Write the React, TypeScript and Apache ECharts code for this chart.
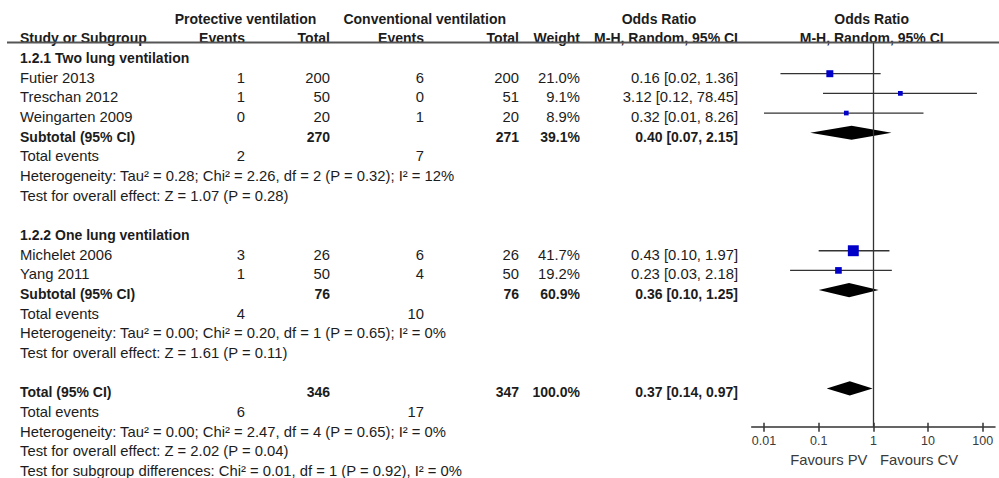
import React, { useEffect, useRef } from "react";
import * as echarts from "echarts";

// ---- Study-level data -------------------------------------------------------
const studyNames = ["Futier 2013", "Treschan 2012", "Weingarten 2009", "Michelet 2006", "Yang 2011"];
const studyGroup = [0, 0, 0, 1, 1];
const pvEvents = [1, 1, 0, 3, 1];
const pvTotal = [200, 50, 20, 26, 50];
const cvEvents = [6, 0, 1, 6, 4];
const cvTotal = [200, 51, 20, 26, 50];
const studyWeight = [21.0, 9.1, 8.9, 41.7, 19.2];
const studyOR = [0.16, 3.12, 0.32, 0.43, 0.23];
const studyLower = [0.02, 0.12, 0.01, 0.1, 0.03];
const studyUpper = [1.36, 78.45, 8.26, 1.97, 2.18];

// ---- Subgroup summaries -----------------------------------------------------
const groupTitles = ["1.2.1 Two lung ventilation", "1.2.2 One lung ventilation"];
const groupPvTotal = [270, 76];
const groupCvTotal = [271, 76];
const groupPvEvents = [2, 4];
const groupCvEvents = [7, 10];
const groupWeight = [39.1, 60.9];
const groupOR = [0.4, 0.36];
const groupLower = [0.07, 0.1];
const groupUpper = [2.15, 1.25];
const groupHeterogeneity = [
  "Heterogeneity: Tau² = 0.28; Chi² = 2.26, df = 2 (P = 0.32); I² = 12%",
  "Heterogeneity: Tau² = 0.00; Chi² = 0.20, df = 1 (P = 0.65); I² = 0%",
];
const groupOverallEffect = [
  "Test for overall effect: Z = 1.07 (P = 0.28)",
  "Test for overall effect: Z = 1.61 (P = 0.11)",
];

// ---- Pooled total -----------------------------------------------------------
const totalPvTotal = 346;
const totalCvTotal = 347;
const totalPvEvents = 6;
const totalCvEvents = 17;
const totalWeight = 100.0;
const totalOR = 0.37;
const totalLower = 0.14;
const totalUpper = 0.97;
const totalFootnotes = [
  "Heterogeneity: Tau² = 0.00; Chi² = 2.47, df = 4 (P = 0.65); I² = 0%",
  "Test for overall effect: Z = 2.02 (P = 0.04)",
  "Test for subgroup differences: Chi² = 0.01, df = 1 (P = 0.92), I² = 0%",
];

// ---- Axis ticks -------------------------------------------------------------
const axisTickValues = [0.01, 0.1, 1, 10, 100];
const axisTickLabels = ["0.01", "0.1", "1", "10", "100"];
const favourLabels = ["Favours PV", "Favours CV"];

// ---- Layout -----------------------------------------------------------------
const FONT_FAMILY = "'Liberation Sans', Arial, sans-serif";
const REG = `14.8px ${FONT_FAMILY}`;
const BOLD = `bold 14px ${FONT_FAMILY}`;
const TEXT_COLOR = "#1c1c1c";
const ROW_STEP = 19.67;
const TEXT_TOP = 18.7; // centre of the first header row
const MARK_TOP = 14.7; // centre of row 0 in the plot area
const COL = { name: 20, pvEv: 245, pvTot: 330, cvEv: 424, cvTot: 519, weight: 580, or: 738 };
const GRID = { left: 751.7, top: 43, width: 243.3, bottom: 426.7 };
const X_MIN = -2.225;
const X_MAX = 2.225;

const rowY = (r: number) => TEXT_TOP + ROW_STEP * r;
const fmtW = (w: number) => `${w.toFixed(1)}%`;
const fmtOR = (o: number, l: number, h: number) =>
  `${o.toFixed(2)} [${l.toFixed(2)}, ${h.toFixed(2)}]`;

function text(x: number, y: number, str: string, align: string, font: string, fill = TEXT_COLOR) {
  return {
    type: "text",
    x,
    y,
    silent: true,
    style: {
      text: str,
      font,
      fill,
      align,
      verticalAlign: "middle",
      textAlign: align,
      textVerticalAlign: "middle",
    },
  };
}

function buildLayout() {
  const texts: any[] = [];
  const studyRows: any[] = [];
  const diamondRows: any[] = [];

  // Header
  texts.push(text(245.5, rowY(0), "Protective ventilation", "center", BOLD));
  texts.push(text(424.7, rowY(0), "Conventional ventilation", "center", BOLD));
  texts.push(text(659, rowY(0), "Odds Ratio", "center", BOLD));
  texts.push(text(871.7, rowY(0), "Odds Ratio", "center", BOLD));
  texts.push(text(COL.name, rowY(1), "Study or Subgroup", "left", BOLD));
  texts.push(text(COL.pvEv, rowY(1), "Events", "right", BOLD));
  texts.push(text(COL.pvTot, rowY(1), "Total", "right", BOLD));
  texts.push(text(COL.cvEv, rowY(1), "Events", "right", BOLD));
  texts.push(text(COL.cvTot, rowY(1), "Total", "right", BOLD));
  texts.push(text(COL.weight, rowY(1), "Weight", "right", BOLD));
  texts.push(text(COL.or, rowY(1), "M-H, Random, 95% CI", "right", BOLD));
  texts.push(text(871.7, rowY(1), "M-H, Random, 95% CI", "center", BOLD));

  let r = 2;
  groupTitles.forEach((title, g) => {
    texts.push(text(COL.name, rowY(r), title, "left", BOLD));
    r++;
    studyNames.forEach((name, i) => {
      if (studyGroup[i] !== g) return;
      const y = rowY(r);
      texts.push(text(COL.name, y, name, "left", REG));
      texts.push(text(COL.pvEv, y, String(pvEvents[i]), "right", REG));
      texts.push(text(COL.pvTot, y, String(pvTotal[i]), "right", REG));
      texts.push(text(COL.cvEv, y, String(cvEvents[i]), "right", REG));
      texts.push(text(COL.cvTot, y, String(cvTotal[i]), "right", REG));
      texts.push(text(COL.weight, y, fmtW(studyWeight[i]), "right", REG));
      texts.push(text(COL.or, y, fmtOR(studyOR[i], studyLower[i], studyUpper[i]), "right", REG));
      studyRows.push([
        Math.log10(studyOR[i]),
        r,
        Math.log10(studyLower[i]),
        Math.log10(studyUpper[i]),
        studyWeight[i],
      ]);
      r++;
    });
    let y = rowY(r);
    texts.push(text(COL.name, y, "Subtotal (95% CI)", "left", BOLD));
    texts.push(text(COL.pvTot, y, String(groupPvTotal[g]), "right", BOLD));
    texts.push(text(COL.cvTot, y, String(groupCvTotal[g]), "right", BOLD));
    texts.push(text(COL.weight, y, fmtW(groupWeight[g]), "right", BOLD));
    texts.push(text(COL.or, y, fmtOR(groupOR[g], groupLower[g], groupUpper[g]), "right", BOLD));
    diamondRows.push([Math.log10(groupOR[g]), r, Math.log10(groupLower[g]), Math.log10(groupUpper[g])]);
    r++;
    y = rowY(r);
    texts.push(text(COL.name, y, "Total events", "left", REG));
    texts.push(text(COL.pvEv, y, String(groupPvEvents[g]), "right", REG));
    texts.push(text(COL.cvEv, y, String(groupCvEvents[g]), "right", REG));
    r++;
    texts.push(text(COL.name, rowY(r), groupHeterogeneity[g], "left", REG));
    r++;
    texts.push(text(COL.name, rowY(r), groupOverallEffect[g], "left", REG));
    r += 2;
  });

  let y = rowY(r);
  texts.push(text(COL.name, y, "Total (95% CI)", "left", BOLD));
  texts.push(text(COL.pvTot, y, String(totalPvTotal), "right", BOLD));
  texts.push(text(COL.cvTot, y, String(totalCvTotal), "right", BOLD));
  texts.push(text(COL.weight, y, fmtW(totalWeight), "right", BOLD));
  texts.push(text(COL.or, y, fmtOR(totalOR, totalLower, totalUpper), "right", BOLD));
  diamondRows.push([Math.log10(totalOR), r, Math.log10(totalLower), Math.log10(totalUpper)]);
  r++;
  y = rowY(r);
  texts.push(text(COL.name, y, "Total events", "left", REG));
  texts.push(text(COL.pvEv, y, String(totalPvEvents), "right", REG));
  texts.push(text(COL.cvEv, y, String(totalCvEvents), "right", REG));
  r++;
  totalFootnotes.forEach((note) => {
    texts.push(text(COL.name, rowY(r), note, "left", REG));
    r++;
  });

  // Favours labels under the axis, either side of the line of no effect
  texts.push(text(867.5, 459.5, favourLabels[0], "right", REG, "#3a3a3a"));
  texts.push(text(880, 459.5, favourLabels[1], "left", REG, "#3a3a3a"));

  // Header rule
  texts.push({
    type: "line",
    silent: true,
    shape: { x1: 7, y1: 42.5, x2: 999, y2: 42.5 },
    style: { stroke: "#555", lineWidth: 2 },
  });

  return { texts, studyRows, diamondRows };
}

export default function App() {
  const ref = useRef<HTMLDivElement>(null);

  useEffect(() => {
    if (!ref.current) return;
    const chart = echarts.init(ref.current, undefined, { renderer: "svg" });
    const { texts, studyRows, diamondRows } = buildLayout();

    const yMin = (GRID.top - MARK_TOP) / ROW_STEP;
    const yMax = (GRID.bottom - MARK_TOP) / ROW_STEP;
    const tickLogs = axisTickValues.map((v) => Math.log10(v));
    const labelFor = (v: number) => {
      const idx = tickLogs.findIndex((t) => Math.abs(t - v) < 1e-6);
      return idx >= 0 ? axisTickLabels[idx] : "";
    };

    chart.setOption({
      animation: false,
      backgroundColor: "#ffffff",
      grid: {
        left: GRID.left,
        top: GRID.top,
        width: GRID.width,
        height: GRID.bottom - GRID.top,
        containLabel: false,
      },
      xAxis: [
        {
          type: "value",
          min: X_MIN,
          max: X_MAX,
          position: "bottom",
          axisLine: { show: true, onZero: false, lineStyle: { color: "#333", width: 1.5 } },
          axisTick: {
            show: true,
            length: 5,
            customValues: tickLogs,
            lineStyle: { color: "#333", width: 1.5 },
          },
          axisLabel: {
            show: true,
            customValues: tickLogs,
            formatter: (v: number) => labelFor(v),
            color: "#3a3a3a",
            fontSize: 12.5,
            fontFamily: FONT_FAMILY,
            margin: 8,
          },
          splitLine: { show: false },
        },
        {
          type: "value",
          min: X_MIN,
          max: X_MAX,
          position: "bottom",
          offset: 0,
          axisLine: { show: false, onZero: false },
          axisTick: {
            show: true,
            inside: true,
            length: 4,
            customValues: tickLogs,
            lineStyle: { color: "#333", width: 1.5 },
          },
          axisLabel: { show: false, customValues: tickLogs },
          splitLine: { show: false },
        },
      ],
      yAxis: {
        type: "value",
        inverse: true,
        min: yMin,
        max: yMax,
        show: false,
        splitLine: { show: false },
      },
      series: [
        {
          type: "custom",
          name: "studies",
          data: studyRows,
          encode: { x: [0, 2, 3], y: 1 },
          renderItem: (_params: any, api: any) => {
            const row = api.value(1);
            const c = api.coord([api.value(0), row]);
            const lo = api.coord([api.value(2), row]);
            const hi = api.coord([api.value(3), row]);
            const s = 3 + 0.19 * api.value(4);
            return {
              type: "group",
              children: [
                {
                  type: "line",
                  shape: { x1: lo[0], y1: lo[1], x2: hi[0], y2: hi[1] },
                  style: { stroke: "#333", lineWidth: 1.3 },
                },
                {
                  type: "rect",
                  shape: { x: c[0] - s / 2, y: c[1] - s / 2, width: s, height: s },
                  style: { fill: "#0000c8" },
                },
              ],
            };
          },
          markLine: {
            silent: true,
            symbol: "none",
            label: { show: false },
            lineStyle: { color: "#333", width: 1.3, type: "solid" },
            data: [{ xAxis: 0 }],
          },
        },
        {
          type: "custom",
          name: "pooled",
          data: diamondRows,
          encode: { x: [0, 2, 3], y: 1 },
          renderItem: (_params: any, api: any) => {
            const row = api.value(1);
            const c = api.coord([api.value(0), row]);
            const lo = api.coord([api.value(2), row]);
            const hi = api.coord([api.value(3), row]);
            const half = api.size([0, 1])[1] * 0.36;
            return {
              type: "polygon",
              shape: {
                points: [
                  [lo[0], lo[1]],
                  [c[0], c[1] - half],
                  [hi[0], hi[1]],
                  [c[0], c[1] + half],
                ],
              },
              style: { fill: "#000" },
            };
          },
        },
      ],
      graphic: { elements: texts },
    });

    return () => chart.dispose();
  }, []);

  return (
    <div
      ref={ref}
      style={{ position: "fixed", left: 0, top: 0, width: 999, height: 478, background: "#fff" }}
    />
  );
}
